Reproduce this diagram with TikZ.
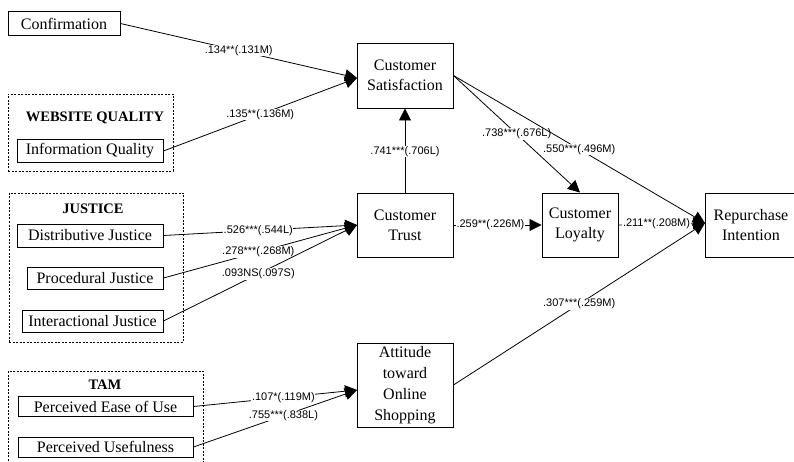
\documentclass[tikz,border=0pt]{standalone}
\usepackage{fontspec}
\setmainfont{Liberation Serif}
\setsansfont{Liberation Sans}
\usetikzlibrary{arrows.meta}
\tikzset{
  box/.style={draw, line width=0.9pt, inner sep=0pt, align=center, font=\fontsize{16}{20}\selectfont},
  grp/.style={draw, line width=0.8pt, dash pattern=on 2pt off 1.5pt, inner sep=0pt},
  grplabel/.style={font=\fontsize{14.5}{16}\selectfont\bfseries, inner sep=0pt},
  conn/.style={line width=0.8pt, -{Triangle[length=12pt,width=12pt]}},
  lbl/.style={font=\sffamily\fontsize{11}{12}\selectfont, fill=white, inner sep=0.6pt}
}
\begin{document}
\begin{tikzpicture}[x=1pt,y=-1pt]
\useasboundingbox (0,0) rectangle (794,462);
% group boxes
\node[grp, minimum width=165pt, minimum height=77pt] (gwq) at (90.5,132.5) {};
\node[grplabel] (lwq) at (95,118) {WEBSITE QUALITY};
\node[grp, minimum width=174pt, minimum height=149pt] (gj) at (96,267.5) {};
\node[grplabel] (lj) at (93,209) {JUSTICE};
\node[grp, minimum width=195pt, minimum height=100pt] (gt) at (105.5,421) {};
\node[grplabel] (lt) at (105,385) {TAM};
% boxes
\node[box, minimum width=112pt, minimum height=24pt] (conf) at (64,23.5) {Confirmation};
\node[box, minimum width=146pt, minimum height=23pt] (iq) at (90,151) {Information Quality};
\node[box, minimum width=146pt, minimum height=23pt] (dj) at (90,235.5) {Distributive Justice};
\node[box, minimum width=136pt, minimum height=22pt] (pj) at (95,278) {Procedural Justice};
\node[box, minimum width=141pt, minimum height=22pt] (ij) at (92.5,321) {Interactional Justice};
\node[box, minimum width=175pt, minimum height=20pt] (peu) at (105.5,406.5) {Perceived Ease of Use};
\node[box, minimum width=175pt, minimum height=20pt] (pu) at (105.5,447) {Perceived Usefulness};
\node[box, minimum width=96pt, minimum height=65pt] (cs) at (405,75.5) {Customer\\Satisfaction};
\node[box, minimum width=96pt, minimum height=64pt] (ct) at (405,225) {Customer\\Trust};
\node[box, minimum width=76pt, minimum height=64pt] (cl) at (580,225) {Customer\\Loyalty};
\node[box, minimum width=92pt, minimum height=64pt] (ri) at (751,225) {Repurchase\\Intention};
\node[box, minimum width=96pt, minimum height=84pt, font=\fontsize{16}{21}\selectfont] (att) at (405,385) {Attitude\\toward\\Online\\Shopping};
% entry points
\coordinate (csin) at (357,78);
\coordinate (ctin) at (357,225);
\coordinate (attin) at (357,390);
\coordinate (riin) at (705,223);
% connectors
\draw[conn] (conf.east) -- node[lbl, pos=0.5] (l1) {.134**(.131M)} (csin);
\draw[conn] (iq.east) -- node[lbl, pos=0.5] (l2) {.135**(.136M)} (csin);
\draw[conn] (dj.east) -- node[lbl, pos=0.49] (l3) {.526***(.544L)} (ctin);
\draw[conn] (pj.east) -- node[lbl, pos=0.49] (l4) {.278***(.268M)} (ctin);
\draw[conn] (ij.east) -- node[lbl, pos=0.49] (l5) {.093NS(.097S)} (ctin);
\draw[conn] (peu.east) -- node[lbl, pos=0.55] (l6) {.107*(.119M)} (attin);
\draw[conn] (pu.east) -- node[lbl, pos=0.55] (l7) {.755***(.838L)} (attin);
\draw[conn] (ct.north) -- node[lbl, pos=0.49] (l8) {.741***(.706L)} (cs.south);
\draw[conn] (ct.east) -- node[lbl, pos=0.42] (l9) {.259**(.226M)} (cl.west);
\draw[conn] (cs.east) -- node[lbl, pos=0.5] (l11) {.738***(.676L)} (cl.north);
\draw[conn] (cs.east) -- node[lbl, pos=0.5] (l12) {.550***(.496M)} (riin);
\draw[conn] (att.east) -- node[lbl, pos=0.5] (l13) {.307***(.259M)} (riin);
\draw[conn] (cl.east) -- node[lbl, pos=0.44] (l10) {.211**(.208M)} (riin);
\end{tikzpicture}
\end{document}
